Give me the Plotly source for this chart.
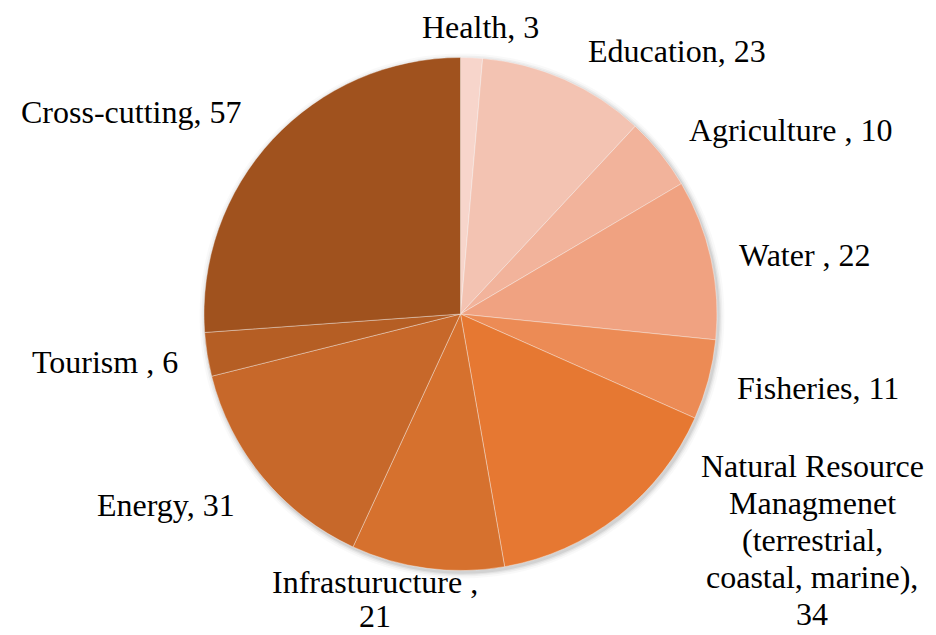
import plotly.graph_objects as go

W, H = 936, 635

categories = ["Health", "Education", "Agriculture ", "Water ", "Fisheries",
              "Natural Resource Managmenet (terrestrial, coastal, marine)",
              "Infrasturucture ", "Energy", "Tourism ", "Cross-cutting"]
values = [3, 23, 10, 22, 11, 34, 21, 31, 6, 57]
colors = ["#F7D5CB", "#F3C3B2", "#F2B39B", "#F0A281", "#EC8B55",
          "#E67832", "#D6712E", "#C7682A", "#B55E24", "#A0521E"]

# label lines for each slice (each line drawn separately for tight spacing)
label_lines = [
    ["Health, 3"],
    ["Education, 23"],
    ["Agriculture , 10"],
    ["Water , 22"],
    ["Fisheries, 11"],
    ["Natural Resource", "Managmenet", "(terrestrial,", "coastal, marine),", "34"],
    ["Infrasturucture ,", "21"],
    ["Energy, 31"],
    ["Tourism , 6"],
    ["Cross-cutting, 57"],
]
# centre x, first-line centre y (pixels), line step
label_anchor = [(481, 27, 0), (677, 51, 0), (791, 130, 0), (805, 255, 0), (818, 388, 0),
                (812, 466, 37), (375, 582, 34), (166, 505, 0), (105, 362, 0), (131, 112, 0)]
FONT_SIZE = 32

cx, cy, r = 460.5, 314, 256.5

fig = go.Figure()

# soft shadow behind the pie
for d, a in [(6, 0.025), (4, 0.04), (2.5, 0.05), (1.2, 0.07)]:
    fig.add_shape(type="circle", xref="paper", yref="paper", layer="below",
                  x0=(cx - r - d + 1.5) / W, x1=(cx + r + d + 1.5) / W,
                  y0=1 - (cy + r + d + 2) / H, y1=1 - (cy - r - d + 2) / H,
                  fillcolor=f"rgba(0,0,0,{a})", line=dict(width=0))

fig.add_trace(go.Pie(
    labels=categories, values=values, sort=False, direction="clockwise",
    rotation=0, textinfo="none", hoverinfo="label+value",
    marker=dict(colors=colors, line=dict(color="rgba(255,255,255,0.45)", width=0.8)),
    domain=dict(x=[(cx - r) / W, (cx + r) / W], y=[1 - (cy + r) / H, 1 - (cy - r) / H]),
    showlegend=False,
))

for lines, (x, y0, step) in zip(label_lines, label_anchor):
    for i, t in enumerate(lines):
        y = y0 + i * step
        fig.add_annotation(x=x / W, y=1 - y / H, xref="paper", yref="paper", text=t,
                           showarrow=False, xanchor="center", yanchor="middle",
                           font=dict(family="Liberation Serif", size=FONT_SIZE, color="#000000"))

fig.update_layout(width=W, height=H, margin=dict(l=0, r=0, t=0, b=0),
                  paper_bgcolor="white", plot_bgcolor="white")
fig.write_html("out.html", config={"displayModeBar": False},
               post_script="document.body.style.margin='0';document.body.style.padding='0';")
